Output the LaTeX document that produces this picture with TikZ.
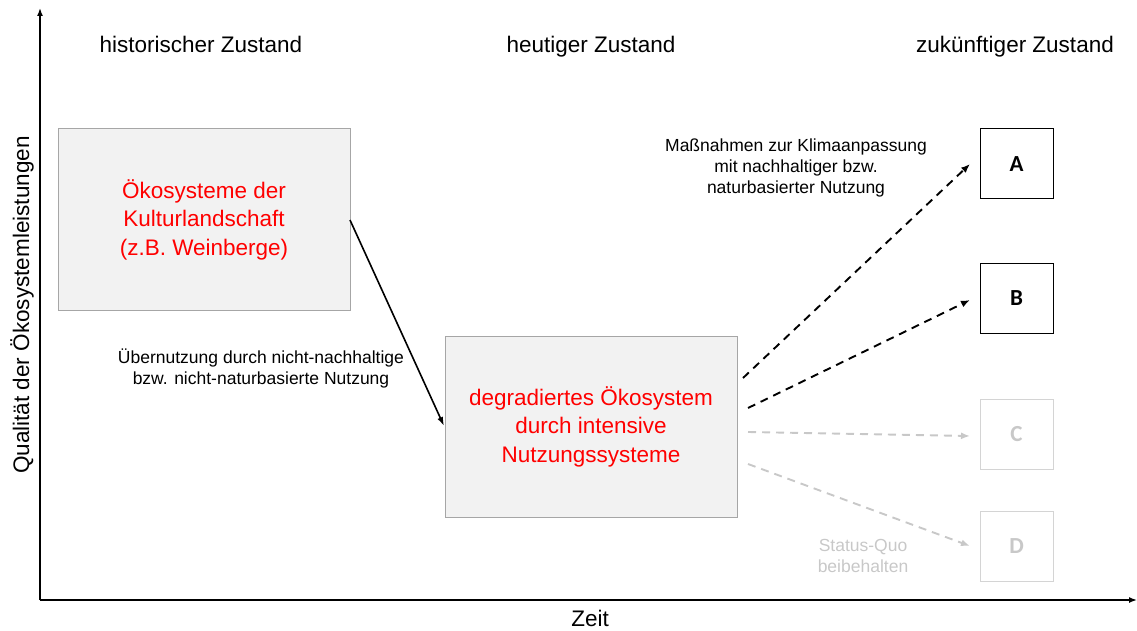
\documentclass[tikz,border=0pt]{standalone}
\usepackage{fontspec}
\setmainfont{Liberation Sans}
\newfontfamily\carl{Carlito}
\usetikzlibrary{arrows.meta}
\definecolor{boxfill}{HTML}{F2F2F2}
\definecolor{boxline}{HTML}{A6A6A6}
\definecolor{lgray}{HTML}{C8C8C8}
\definecolor{lgline}{HTML}{D4D4D4}
\tikzset{
  bigbox/.style={draw=boxline, fill=boxfill, line width=1pt, minimum width=292pt, minimum height=181pt, inner sep=0pt,
     text=red, align=center, font=\fontsize{22.5}{28.5}\selectfont},
  letterbox/.style={draw=black, line width=1pt, minimum width=73pt, minimum height=70pt, inner sep=0pt, font=\carl\bfseries\fontsize{23}{26}\selectfont},
  ghostbox/.style={letterbox, draw=lgline, text=lgray},
  heading/.style={font=\fontsize{22.5}{27}\selectfont},
  smalltext/.style={align=center, font=\fontsize{17.5}{21}\selectfont},
  axis/.style={line width=1.5pt, -{Latex[length=8pt,width=6pt]}},
  solidarrow/.style={line width=1.6pt, -{Latex[length=9pt,width=6pt]}},
  dasharrow/.style={line width=1.9pt, dash pattern=on 8pt off 6pt, -{Latex[length=9pt,width=7pt]}},
  ghostarrow/.style={dasharrow, draw=lgray},
}
\begin{document}
\begin{tikzpicture}[x=1pt,y=-1pt]
\useasboundingbox (0,0) rectangle (1137,631);
% axes
\coordinate (O) at (40,600);
\coordinate (Ytop) at (40,8);
\coordinate (Xend) at (1137,600);
\draw[axis] (O) -- (Ytop);
\draw[axis] (O) -- (Xend);
\node[heading, rotate=90] (ylab) at (22,305) {Qualität der Ökosystemleistungen};
\node[heading, anchor=base] (xlab) at (590,626.5) {Zeit};
% headings
\node[heading, anchor=base] (h1) at (201,52.5) {historischer Zustand};
\node[heading, anchor=base] (h2) at (591,52.5) {heutiger Zustand};
\node[heading, anchor=base] (h3) at (1015,52.5) {zukünftiger Zustand};
% boxes
\node[bigbox] (hist) at (204,219.5) {Ökosysteme der\\Kulturlandschaft\\(z.B. Weinberge)};
\node[bigbox] (deg) at (591,426.5) {degradiertes Ökosystem\\durch intensive\\Nutzungssysteme};
\node[letterbox] (A) at (1016.5,164) {A};
\node[letterbox] (B) at (1016.5,298.5) {B};
\node[ghostbox] (C) at (1016.5,434.5) {C};
\node[ghostbox] (D) at (1016.5,546.5) {D};
% labels
\node[smalltext] (lab1) at (261,368) {Übernutzung durch nicht-nachhaltige\\bzw. nicht-naturbasierte Nutzung};
\node[smalltext] (lab2) at (796,168) {Maßnahmen zur Klimaanpassung\\mit nachhaltiger bzw.\\naturbasierter Nutzung};
\node[smalltext, text=lgray] (lab3) at (863,556) {Status-Quo\\beibehalten};
% connectors
\coordinate (s1) at (350,220);
\coordinate (e1) at (444,426);
\draw[solidarrow] (s1) -- (e1);
\coordinate (sA) at (743,378);
\coordinate (eA) at (970,164);
\coordinate (sB) at (748,408);
\coordinate (eB) at (970,300);
\coordinate (sC) at (748,432);
\coordinate (eC) at (970,436);
\coordinate (sD) at (748,464);
\coordinate (eD) at (970,546);
\draw[dasharrow] (sA) -- (eA);
\draw[dasharrow] (sB) -- (eB);
\draw[ghostarrow] (sC) -- (eC);
\draw[ghostarrow] (sD) -- (eD);
\end{tikzpicture}
\end{document}
